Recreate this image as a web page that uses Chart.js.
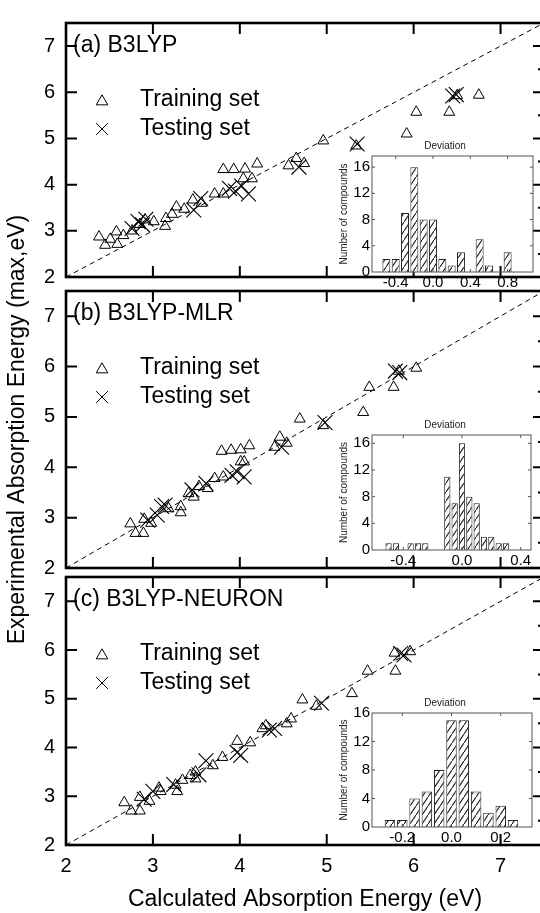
<!DOCTYPE html>
<html><head><meta charset="utf-8">
<script src="https://cdn.jsdelivr.net/npm/chart.js@4.4.1/dist/chart.umd.min.js"></script>
<style>
html,body{margin:0;padding:0;width:540px;height:913px;overflow:hidden;background:#fff;}
canvas{position:absolute;}
</style></head><body>
<canvas id="pa" width="550" height="300" style="left:0;top:0"></canvas>
<canvas id="pb" width="550" height="913" style="left:0;top:0"></canvas>
<canvas id="pc" width="550" height="359" style="left:0;top:554px"></canvas>
<canvas id="ha" width="214" height="162" style="left:338px;top:132px"></canvas>
<canvas id="hb" width="214" height="161" style="left:338px;top:411px"></canvas>
<canvas id="hc" width="214" height="160" style="left:338px;top:689px"></canvas>
<script>
// ---------- text ----------
const panelTitles = ['(a) B3LYP', '(b) B3LYP-MLR', '(c) B3LYP-NEURON'];
const legendLabels = ['Training set', 'Testing set'];
const xTitle = 'Calculated Absorption Energy (eV)';
const yTitle = 'Experimental Absorption Energy (max,eV)';
const histTitle = 'Deviation';
const histYTitle = 'Number of compounds';

// ---------- axes ----------
const axisTicks = [2, 3, 4, 5, 6, 7];
const axisRange = [2, 7.5];
const diagonal = [2, 7.5];
const histYTicks = [0, 4, 8, 12, 16];
const histA_xticks = [-0.4, 0.0, 0.4, 0.8];
const histB_xticks = [-0.4, 0.0, 0.4];
const histC_xticks = [-0.2, 0.0, 0.2];

// ---------- panel (a) B3LYP ----------
const trainA_calc = [2.38,2.45,2.51,2.58,2.59,2.66,2.76,2.85,2.91,3.01,3.14,3.15,3.22,3.27,3.36,3.46,3.56,3.71,3.81,3.81,3.93,4.06,4.04,4.14,4.20,4.56,4.65,4.74,4.96,5.34,5.92,6.03,6.41,6.50,6.75];
const trainA_exp  = [2.87,2.69,2.82,2.98,2.71,2.90,3.00,3.14,3.24,3.20,3.10,3.27,3.36,3.52,3.47,3.67,3.60,3.80,3.80,4.33,4.33,4.34,4.13,4.13,4.45,4.41,4.57,4.46,4.95,4.84,5.10,5.57,5.57,5.93,5.94];
const testA_calc  = [2.76,2.83,2.88,2.92,3.47,3.55,3.88,3.95,4.02,4.10,4.68,5.35,6.45,6.49];
const testA_exp   = [3.05,3.20,3.13,3.25,3.45,3.70,3.92,3.86,3.97,3.80,4.38,4.88,5.92,5.95];

// ---------- panel (b) B3LYP-MLR ----------
const trainB_calc = [2.74,2.80,2.89,2.90,2.98,3.18,3.32,3.32,3.41,3.47,3.53,3.63,3.71,3.81,3.79,3.90,4.01,4.11,4.01,4.05,4.40,4.46,4.54,4.69,4.96,5.42,5.49,5.77,5.83,6.03];
const trainB_exp  = [2.88,2.69,2.69,2.97,2.89,3.18,3.10,3.22,3.48,3.41,3.62,3.58,3.78,3.81,4.32,4.34,4.35,4.43,4.11,4.11,4.40,4.60,4.48,4.96,4.83,5.09,5.59,5.59,5.91,5.97];
const testB_calc  = [2.94,3.05,3.10,3.14,3.45,3.61,3.91,3.97,4.05,4.48,4.98,5.79,5.84];
const testB_exp   = [2.95,3.05,3.22,3.25,3.55,3.68,3.84,3.91,3.81,4.40,4.89,5.91,5.88];

// ---------- panel (c) B3LYP-NEURON ----------
const trainC_calc = [2.67,2.75,2.85,2.85,2.96,3.07,3.09,3.28,3.26,3.34,3.43,3.49,3.49,3.69,3.80,3.97,4.12,4.26,4.30,4.54,4.59,4.72,4.88,5.29,5.47,5.79,5.78,5.96];
const trainC_exp  = [2.87,2.70,2.70,2.98,2.90,3.17,3.10,3.10,3.23,3.33,3.43,3.36,3.50,3.63,3.80,4.13,4.10,4.39,4.45,4.49,4.59,4.98,4.85,5.11,5.57,5.57,5.94,5.97];
const testC_calc  = [2.90,3.00,3.24,3.53,3.61,3.97,4.01,4.34,4.40,4.94,5.85,5.89];
const testC_exp   = [2.94,3.10,3.24,3.44,3.73,3.90,3.84,4.36,4.39,4.91,5.93,5.90];

// ---------- deviation histograms ----------
const histA_bins   = [-0.5,-0.4,-0.3,-0.2,-0.1,0.0,0.1,0.2,0.3,0.4,0.5,0.6,0.7,0.8];
const histA_counts = [2,2,9,16,8,8,2,1,3,0,5,1,0,3];
const histB_bins   = [-0.5,-0.45,-0.4,-0.35,-0.3,-0.25,-0.2,-0.15,-0.1,-0.05,0.0,0.05,0.1,0.15,0.2,0.25,0.3];
const histB_counts = [1,1,0,1,1,1,0,0,11,7,16,8,7,2,2,1,1];
const histC_bins   = [-0.25,-0.2,-0.15,-0.1,-0.05,0.0,0.05,0.1,0.15,0.2,0.25];
const histC_counts = [1,1,4,5,8,15,15,5,2,3,1];

// ---------- rendering ----------
const FONT = "'Liberation Sans', Arial, Helvetica, sans-serif";
Chart.defaults.font.family = FONT;
Chart.defaults.color = '#000';

function pts(xs, ys) { return xs.map((x, i) => ({x: x, y: ys[i]})); }
function fixedTicks(list) { return s => { s.ticks = list.map(v => ({value: v})); }; }

function drawTri(ctx, x, y, r) {
  ctx.beginPath();
  ctx.moveTo(x, y - r);
  ctx.lineTo(x + r * 0.866, y + r / 2);
  ctx.lineTo(x - r * 0.866, y + r / 2);
  ctx.closePath();
  ctx.stroke();
}
function drawX(ctx, x, y, r) {
  const d = r * 0.7071;
  ctx.beginPath();
  ctx.moveTo(x - d, y - d); ctx.lineTo(x + d, y + d);
  ctx.moveTo(x - d, y + d); ctx.lineTo(x + d, y - d);
  ctx.stroke();
}

const framePlugin = {
  id: 'frame',
  afterDraw(chart, args, o) {
    if (!o || !o.enabled) return;
    const ctx = chart.ctx, a = chart.chartArea;
    const xs = chart.scales.x, ys = chart.scales.y;
    ctx.save();
    ctx.strokeStyle = o.color;
    ctx.lineWidth = o.tickWidth;
    ctx.beginPath();
    xs.ticks.forEach(t => {
      const p = xs.getPixelForValue(t.value);
      if (p <= a.left + 1 || p >= a.right - 1) return;
      ctx.moveTo(p, a.top); ctx.lineTo(p, a.top + o.tickLen);
      ctx.moveTo(p, a.bottom); ctx.lineTo(p, a.bottom - o.tickLen);
    });
    ys.ticks.forEach(t => {
      const p = ys.getPixelForValue(t.value);
      if (p <= a.top + 1 || p >= a.bottom - 1) return;
      ctx.moveTo(a.left, p); ctx.lineTo(a.left + o.tickLen, p);
      ctx.moveTo(a.right, p); ctx.lineTo(a.right - o.tickLen, p);
    });
    if (o.minorRight) {
      for (let v = Math.floor(ys.min) + 0.5; v < ys.max; v += 1) {
        const p = ys.getPixelForValue(v);
        if (p <= a.top + 1 || p >= a.bottom - 1) continue;
        ctx.moveTo(a.right, p); ctx.lineTo(a.right - o.minorLen, p);
      }
    }
    ctx.stroke();
    ctx.lineWidth = o.frameWidth;
    ctx.strokeRect(a.left, a.top, a.right - a.left, a.bottom - a.top);
    if (o.label) {
      ctx.fillStyle = '#000';
      ctx.font = '23px ' + FONT;
      ctx.textBaseline = 'middle';
      ctx.textAlign = 'left';
      ctx.fillText(o.label, a.left + 7, a.top + 23);
      const r1 = a.top + 77, r2 = a.top + 106;
      ctx.lineWidth = 1;
      drawTri(ctx, 102, r1 + 1.5, 6.7);
      drawX(ctx, 102, r2, 8.3);
      ctx.fillText(legendLabels[0], 140, r1);
      ctx.fillText(legendLabels[1], 140, r2);
    }
    ctx.restore();
  }
};
Chart.register(framePlugin);

function mainChart(id, idx, trX, trY, teX, teY, showXLabels, showYTitle, padTop, xHeight, padBottom) {
  return new Chart(document.getElementById(id), {
    type: 'scatter',
    data: {
      datasets: [
        {data: pts(trX, trY), pointStyle: 'triangle', pointRadius: 6.3, pointHoverRadius: 6.3,
         borderColor: '#000', backgroundColor: 'rgba(0,0,0,0)', borderWidth: 1},
        {data: pts(teX, teY), pointStyle: 'crossRot', pointRadius: 10.5, pointHoverRadius: 10.5,
         borderColor: '#000', backgroundColor: 'rgba(0,0,0,0)', borderWidth: 1.1},
        {data: pts(diagonal, diagonal), showLine: true, pointRadius: 0, borderColor: '#000',
         borderWidth: 1, borderDash: [5, 4]}
      ]
    },
    options: {
      responsive: false, animation: false, events: [],
      layout: {autoPadding: false, padding: {top: padTop, left: 0, right: 6, bottom: padBottom}},
      plugins: {
        legend: {display: false}, tooltip: {enabled: false},
        frame: {enabled: true, color: '#000', tickWidth: 2, tickLen: 11, minorLen: 6,
                minorRight: true, frameWidth: 2.6, label: panelTitles[idx]}
      },
      scales: {
        x: {type: 'linear', min: axisRange[0], max: axisRange[1],
            afterBuildTicks: fixedTicks(axisTicks),
            afterFit: s => { s.height = xHeight; },
            grid: {display: false, drawTicks: false}, border: {display: false},
            ticks: {display: showXLabels, font: {size: 20}, padding: 9, maxRotation: 0, autoSkip: false},
            title: {display: showXLabels, text: xTitle, font: {size: 23}, padding: {top: 0, bottom: 0}}},
        y: {type: 'linear', min: axisRange[0], max: axisRange[1],
            afterBuildTicks: fixedTicks(axisTicks),
            afterFit: s => { s.width = 66; },
            grid: {display: false, drawTicks: false}, border: {display: false},
            ticks: {font: {size: 20}, padding: 11, autoSkip: false},
            title: {display: showYTitle, text: yTitle, font: {size: 23}, padding: {top: 4, bottom: 0}}}
      }
    }
  });
}

mainChart('pa', 0, trainA_calc, trainA_exp, testA_calc, testA_exp, false, false, 14, 9, 0);
mainChart('pb', 1, trainB_calc, trainB_exp, testB_calc, testB_exp, false, true, 291, 9, 336);
mainChart('pc', 2, trainC_calc, trainC_exp, testC_calc, testC_exp, true, false, 14, 68, 0);

function hatch() {
  const c = document.createElement('canvas');
  c.width = 6; c.height = 9;
  const g = c.getContext('2d');
  g.fillStyle = '#fff'; g.fillRect(0, 0, 6, 9);
  g.strokeStyle = '#1a1a1a'; g.lineWidth = 1.1;
  g.beginPath(); g.moveTo(0, 9); g.lineTo(6, 0); g.stroke();
  return g.createPattern(c, 'repeat');
}

function histChart(id, bins, counts, xticks, xmin, xmax, ymax, rightW) {
  const pat = hatch();
  return new Chart(document.getElementById(id), {
    type: 'bar',
    data: {datasets: [{data: pts(bins, counts), backgroundColor: pat, borderColor: '#222',
                       borderWidth: 1, barPercentage: 0.85, categoryPercentage: 1.0}]},
    options: {
      responsive: false, animation: false, events: [],
      layout: {autoPadding: false, padding: 0},
      plugins: {
        legend: {display: false}, tooltip: {enabled: false},
        title: {display: true, text: histTitle, font: {size: 10, weight: 'normal'}, color: '#222',
                padding: {top: 8.5, bottom: 3.5}},
        frame: {enabled: true, color: '#555', tickWidth: 1, tickLen: 3, minorLen: 0,
                minorRight: false, frameWidth: 1, label: null}
      },
      scales: {
        x: {type: 'linear', min: xmin, max: xmax, offset: false,
            afterBuildTicks: fixedTicks(xticks),
            afterFit: s => { s.height = 22; },
            grid: {display: false, drawTicks: false, offset: false}, border: {display: false},
            ticks: {font: {size: 15}, padding: 2, maxRotation: 0, autoSkip: false,
                    callback: v => Number(v).toFixed(1)}},
        y: {type: 'linear', min: 0, max: ymax,
            afterBuildTicks: fixedTicks(histYTicks),
            afterFit: s => { s.width = 34; },
            grid: {display: false, drawTicks: false}, border: {display: false},
            ticks: {font: {size: 15}, padding: 2, autoSkip: false},
            title: {display: true, text: histYTitle, font: {size: 10}, color: '#222',
                    padding: {top: 0, bottom: 0}}},
        yR: {type: 'linear', position: 'right', display: true,
             afterFit: s => { s.width = rightW; },
             grid: {display: false, drawTicks: false}, border: {display: false},
             ticks: {display: false}}
      }
    }
  });
}

histChart('ha', histA_bins, histA_counts, histA_xticks, -0.654, 1.072, 17.7, 19);
histChart('hb', histB_bins, histB_counts, histB_xticks, -0.613, 0.47, 17.25, 21);
histChart('hc', histC_bins, histC_counts, histC_xticks, -0.323, 0.327, 16, 20);
</script>
</body></html>
